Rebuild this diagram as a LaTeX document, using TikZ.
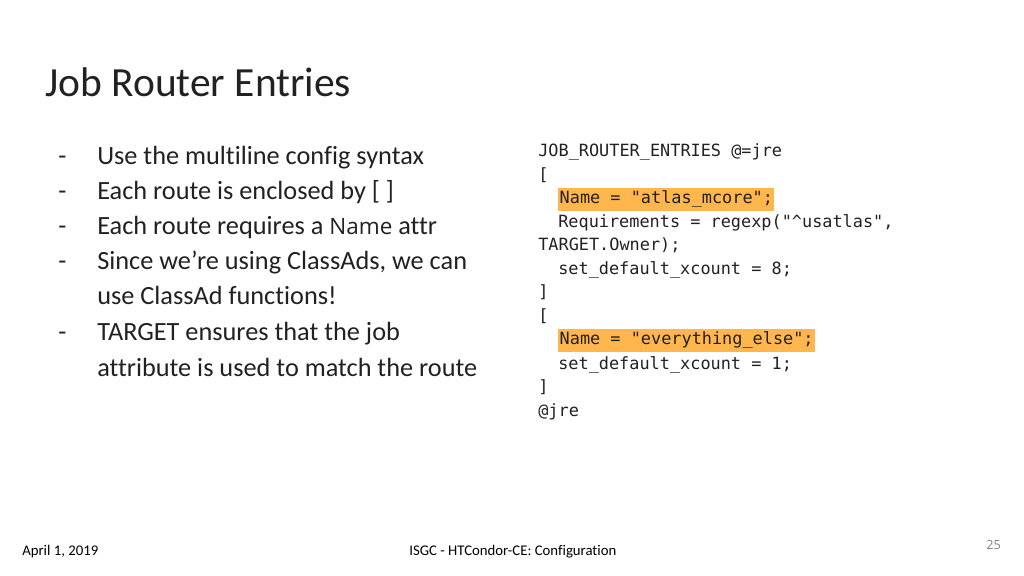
\documentclass[tikz,border=0pt]{standalone}
\usepackage{fontspec}
\setmainfont{Carlito}[Ligatures=NoCommon]
\newfontfamily\codefont{DejaVu Sans Mono}
\newfontfamily\numfont{Open Sans}
\definecolor{hilite}{RGB}{255, 183, 77}
\definecolor{textgray}{RGB}{33, 33, 33}
\tikzset{
  bullet/.style={anchor=base west, inner sep=0pt, font=\fontsize{18.7}{22}\selectfont, text=textgray},
  codeline/.style={anchor=base west, inner sep=0pt, font=\codefont\fontsize{12}{14}\selectfont, text=textgray},
  marked/.style={codeline, fill=hilite, inner xsep=1pt, inner ysep=2pt, text depth=3pt},
  footer/.style={anchor=base west, inner sep=0pt, font=\fontsize{10.5}{12}\selectfont}
}
\begin{document}
\begin{tikzpicture}[x=0.025cm, y=-0.025cm]
  \useasboundingbox (0,0) rectangle (1024,576);
  % title
  \node [anchor=base west, inner sep=0pt, font=\fontsize{29.5}{34}\selectfont, text=textgray] (title) at (45,97) {Job Router Entries};
  % bullets
  \foreach \y/\name in {165/b1, 200/b2, 235/b3, 270/b4, 341/b5}
    \node [bullet] (dash-\name) at (58,\y) {-};
  \node [bullet] (b1) at (97,165) {Use the multiline config syntax};
  \node [bullet] (b2) at (97,200) {Each route is enclosed by [ ]};
  \node [bullet] (b3) at (97,235) {Each route requires a {\numfont\fontsize{16}{20}\selectfont Name} attr};
  \node [bullet] (b4) at (97,270) {Since we’re using ClassAds, we can};
  \node [bullet] (b4b) at (97,305) {use ClassAd functions!};
  \node [bullet] (b5) at (97,341) {TARGET ensures that the job};
  \node [bullet] (b5b) at (97,376) {attribute is used to match the route};
  % code block
  \node [codeline] (c1) at (538,157) {JOB\_ROUTER\_ENTRIES @=jre};
  \node [codeline] (c2) at (538,181) {[};
  \node [marked] (c3) at (558,204) {Name = "atlas\_mcore";};
  \node [codeline] (c4) at (558,228) {Requirements = regexp("\textasciicircum usatlas",};
  \node [codeline] (c5) at (538,251) {TARGET.Owner);};
  \node [codeline] (c6) at (558,275) {set\_default\_xcount = 8;};
  \node [codeline] (c7) at (538,298) {]};
  \node [codeline] (c8) at (538,322) {[};
  \node [marked] (c9) at (558,345) {Name = "everything\_else";};
  \node [codeline] (c10) at (558,369) {set\_default\_xcount = 1;};
  \node [codeline] (c11) at (538,392) {]};
  \node [codeline] (c12) at (538,416) {@jre};
  % footer
  \node [footer] (date) at (22,555) {April 1, 2019};
  \node [footer] (conf) at (409,555) {ISGC - HTCondor-CE: Configuration};
  \node [anchor=base east, inner sep=0pt, font=\numfont\fontsize{9}{10}\selectfont, text=gray] (page) at (1001,549) {25};
\end{tikzpicture}
\end{document}
